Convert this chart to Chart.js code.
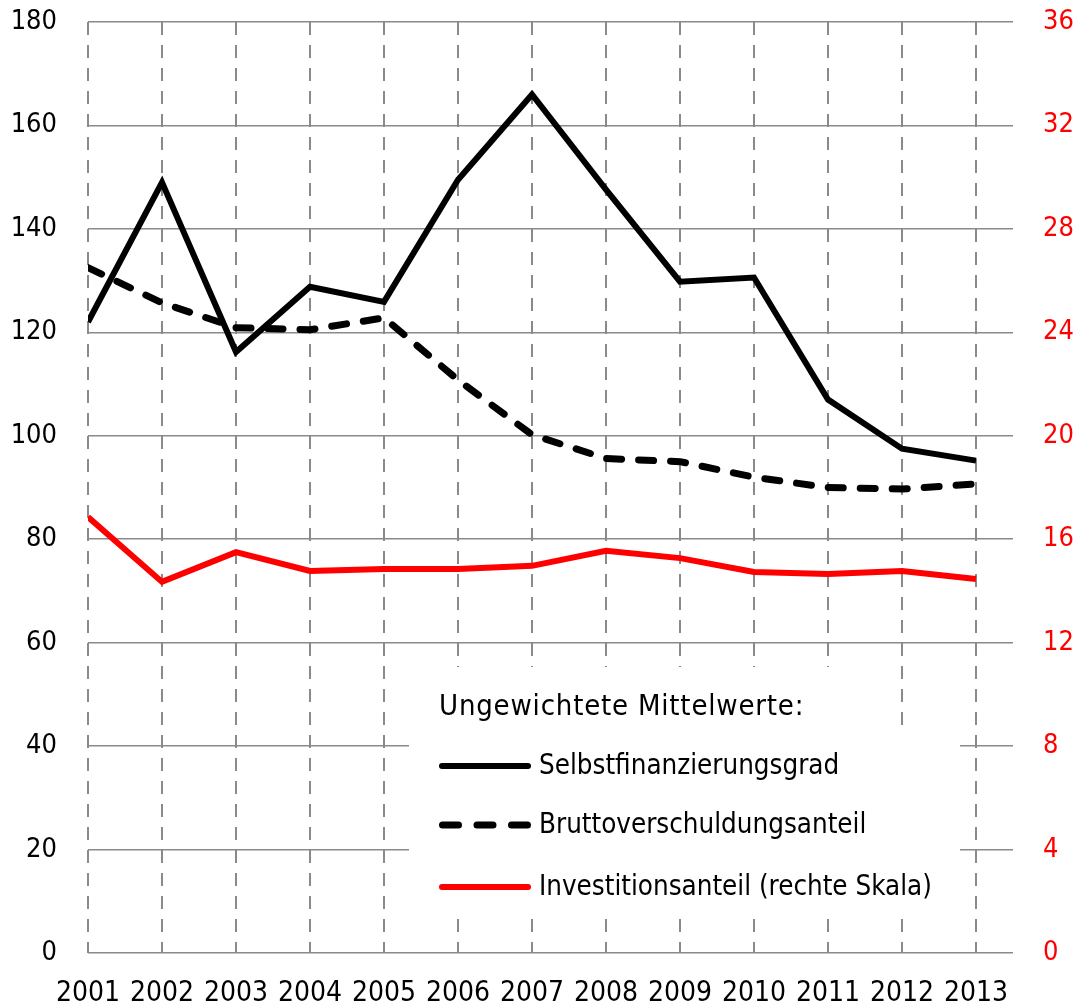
<!DOCTYPE html>
<html>
<head>
<meta charset="utf-8">
<script src="https://cdn.jsdelivr.net/npm/chart.js@4.4.1/dist/chart.umd.min.js"></script>
<style>
  html, body { margin: 0; padding: 0; background: #fff; }
  #wrap { width: 1080px; height: 1008px; position: relative; }
</style>
</head>
<body>
<div id="wrap"><canvas id="chart"></canvas></div>
<script>
"use strict";

// Jahre (x-Achse)
var years = [2001, 2002, 2003, 2004, 2005, 2006, 2007, 2008, 2009, 2010, 2011, 2012, 2013];

// linke Skala
var selbstfinanzierungsgrad = [122, 149, 116.2, 128.8, 125.9, 149.5, 166, 147.6, 129.8, 130.6, 107, 97.5, 95.2];
var bruttoverschuldungsanteil = [132.5, 125.7, 120.9, 120.5, 122.8, 110.8, 100.2, 95.6, 95, 92, 90, 89.7, 90.7];

// rechte Skala
var investitionsanteil = [16.86, 14.35, 15.5, 14.77, 14.85, 14.85, 14.97, 15.55, 15.27, 14.73, 14.66, 14.77, 14.46];

var legendTitle = "Ungewichtete Mittelwerte:";
var seriesLabels = ["Selbstfinanzierungsgrad", "Bruttoverschuldungsanteil", "Investitionsanteil (rechte Skala)"];

var FONT = "'DejaVu Sans Condensed', 'DejaVu Sans', sans-serif";
var GRID = "#8a8a8a";

function pairs(vals) {
    return years.map(function(y, i) { return { x: y, y: vals[i] }; });
}

// feste Achsenmaße, ohne Überhang-Padding
function fixSize(w, h) {
    return function(s) {
        if (w !== null) s.width = w;
        if (h !== null) s.height = h;
        s.paddingTop = s.paddingBottom = s.paddingLeft = s.paddingRight = 0;
    };
}

// weißer Kasten + Legende im Diagramm
var legendBox = {
    id: "legendBox",
    beforeDatasetsDraw: function(chart) {
        var ctx = chart.ctx, a = chart.chartArea;
        ctx.save();
        ctx.fillStyle = "#fff";
        ctx.fillRect(a.left + 321, a.top + 645, 481, 243);
        ctx.fillRect(a.left + 321, a.top + 711, 551, 177);
        ctx.restore();
    },
    afterDraw: function(chart) {
        var ctx = chart.ctx, a = chart.chartArea;
        var x0 = a.left + 351, tx = a.left + 451;
        ctx.save();
        ctx.textBaseline = "middle";
        ctx.textAlign = "left";
        ctx.fillStyle = "#000";
        ctx.letterSpacing = "0.8px";
        ctx.font = "29px " + FONT;
        ctx.fillText(legendTitle, x0, a.top + 685);
        ctx.letterSpacing = "0px";
        ctx.font = "27.5px " + FONT;
        var rows = [a.top + 744, a.top + 803, a.top + 865];
        chart.data.datasets.forEach(function(ds, i) {
            var y = rows[i];
            ctx.beginPath();
            ctx.lineWidth = ds.borderWidth;
            ctx.strokeStyle = ds.borderColor;
            if (ds.borderDash) {
                ctx.setLineDash([16, 18.5]);
                ctx.lineCap = "round";
                ctx.moveTo(x0 + 3.5, y);
                ctx.lineTo(x0 + 88.5, y);
            } else {
                ctx.setLineDash([]);
                ctx.lineCap = "round";
                ctx.moveTo(x0 + 3, y);
                ctx.lineTo(x0 + 89, y);
            }
            ctx.stroke();
            ctx.setLineDash([]);
            ctx.fillText(ds.label, tx, y + 1);
        });
        ctx.restore();
    }
};

var chart = new Chart(document.getElementById("chart"), {
    type: "line",
    data: {
        datasets: [{
            label: seriesLabels[0],
            data: pairs(selbstfinanzierungsgrad),
            borderColor: "#000",
            borderWidth: 6,
            yAxisID: "y"
        }, {
            label: seriesLabels[1],
            data: pairs(bruttoverschuldungsanteil),
            borderColor: "#000",
            borderWidth: 7,
            borderDash: [15, 17],
            borderCapStyle: "round",
            yAxisID: "y"
        }, {
            label: seriesLabels[2],
            data: pairs(investitionsanteil),
            borderColor: "#ff0000",
            borderWidth: 6,
            yAxisID: "y1"
        }]
    },
    options: {
        responsive: true,
        maintainAspectRatio: false,
        animation: false,
        layout: { padding: { left: 0, right: 0, top: 22, bottom: 0 } },
        elements: {
            point: { radius: 0 },
            line: { tension: 0, borderJoinStyle: "miter" }
        },
        plugins: {
            legend: { display: false },
            tooltip: { enabled: false }
        },
        scales: {
            x: {
                type: "linear",
                min: 2001,
                max: 2013.5,
                afterFit: fixSize(null, 55),
                grid: { color: GRID, lineWidth: 2, drawTicks: false },
                border: { display: false, dash: [13, 10] },
                ticks: {
                    stepSize: 1,
                    includeBounds: false,
                    autoSkip: false,
                    maxRotation: 0,
                    padding: 27,
                    color: "#000",
                    font: { family: FONT, size: 28, lineHeight: 1 },
                    callback: function(v) { return String(v); }
                }
            },
            y: {
                position: "left",
                min: 0,
                max: 180,
                afterFit: fixSize(88, null),
                grid: { color: GRID, lineWidth: 1.5, drawTicks: false },
                border: { display: false },
                ticks: {
                    stepSize: 20,
                    padding: 31,
                    color: "#000",
                    font: { family: FONT, size: 27 }
                }
            },
            y1: {
                position: "right",
                min: 0,
                max: 36,
                afterFit: fixSize(67, null),
                grid: { display: false, drawTicks: false },
                border: { display: false },
                ticks: {
                    stepSize: 4,
                    padding: 30,
                    color: "#ff0000",
                    font: { family: FONT, size: 27 }
                }
            }
        }
    },
    plugins: [legendBox]
});
</script>
</body>
</html>
